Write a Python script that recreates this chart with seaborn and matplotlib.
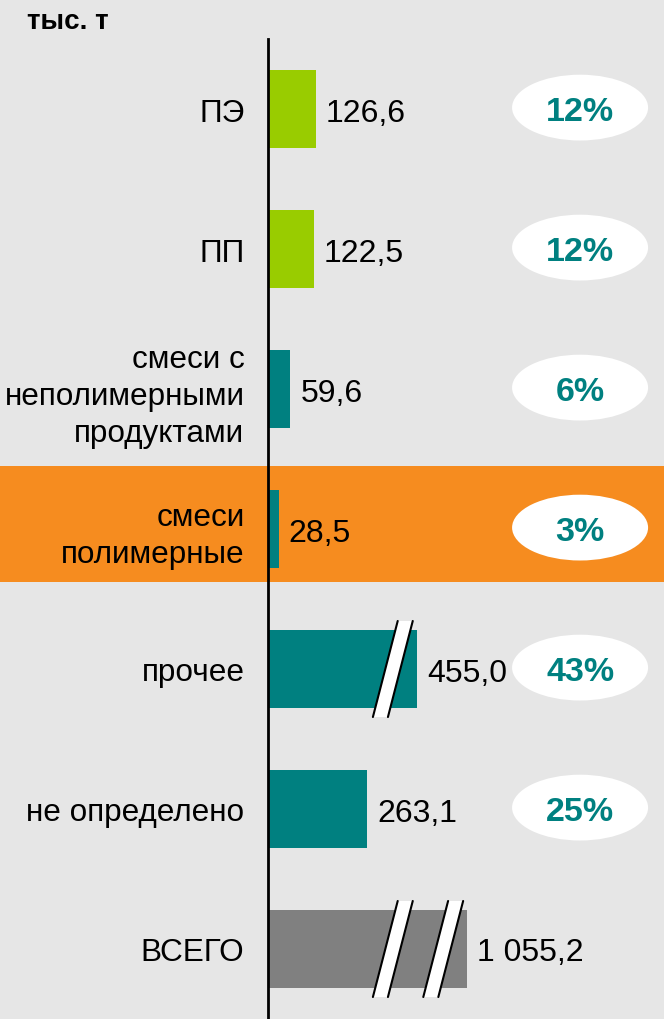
import matplotlib
matplotlib.use("Agg")
import matplotlib.pyplot as plt
import matplotlib.transforms as mtransforms
from matplotlib.patches import Ellipse, Rectangle
import seaborn as sns
import pandas as pd

# data
categories = ["ПЭ", "ПП", "смеси с\nнеполимерными\nпродуктами", "смеси\nполимерные",
              "прочее", "не определено", "ВСЕГО"]
values = [126.6, 122.5, 59.6, 28.5, 455.0, 263.1, 1055.2]
value_labels = ["126,6", "122,5", "59,6", "28,5", "455,0", "263,1", "1 055,2"]
shares = ["12%", "12%", "6%", "3%", "43%", "25%", None]
n_breaks = [0, 0, 0, 0, 1, 0, 2]
bar_colors = ["#99cc00", "#99cc00", "#008080", "#008080", "#008080", "#008080", "#808080"]

BG = "#e6e6e6"
ORANGE = "#f68c1f"
TEAL = "#008080"

# axis break: long bars are compressed above this value
BREAK_AT = 380
BREAK_SLOPE = 0.22


def shown(v):
    return v if v <= BREAK_AT else BREAK_AT + (v - BREAK_AT) * BREAK_SLOPE


df = pd.DataFrame({"cat": categories, "len": [shown(v) for v in values]})

sns.set_theme(style="white")
plt.rcParams["font.family"] = ["Liberation Sans", "DejaVu Sans"]

fig = plt.figure(figsize=(6.64, 10.20), dpi=100, facecolor=BG)
ax = fig.add_axes([268 / 664, 0, 1 - 268 / 664, 980 / 1020])
ax.set_facecolor("none")
ax.set_zorder(2)

# highlight band behind "смеси полимерные"
band_tr = mtransforms.blended_transform_factory(fig.transFigure, ax.transData)
fig.patches.append(Rectangle((0, 2.547), 1, 0.83, transform=band_tr,
                             facecolor=ORANGE, edgecolor="none", zorder=0))

sns.barplot(data=df, x="len", y="cat", hue="cat", palette=bar_colors,
            legend=False, width=0.557, orient="h", saturation=1, linewidth=0,
            ax=ax, zorder=3)

ax.set_xlim(0, 396 / 0.376)
ax.set_ylim(6.5, -0.5)

px = 1 / 0.376  # data units per pixel
for i, v in enumerate(values):
    end = shown(v)
    ax.text(end + 10 * px, i, value_labels[i], va="center_baseline", ha="left",
            fontsize=23, color="black", zorder=5)
    # break marks
    for k in range(n_breaks[i]):
        cx = 332 + k * 134
        dx, hw, hh = 33, 20, 0.343
        xs = [cx - dx - hw, cx - dx + hw, cx + dx + hw, cx + dx - hw]
        ys = [i + hh, i + hh, i - hh, i - hh]
        ax.fill(xs, ys, color="white", zorder=4, lw=0)
        ax.plot([cx - dx - hw, cx + dx - hw], [i + hh, i - hh], color="black", lw=1.5, zorder=5)
        ax.plot([cx - dx + hw, cx + dx + hw], [i + hh, i - hh], color="black", lw=1.5, zorder=5)
    if shares[i]:
        ax.add_patch(Ellipse((830, i - 0.01), 136 * px, 0.47, facecolor="white",
                             edgecolor="none", zorder=4))
        ax.text(830, i - 0.01, shares[i], ha="center", va="center_baseline", fontsize=24.5,
                fontweight="bold", color=TEAL, zorder=5)

for s in ["top", "right", "bottom"]:
    ax.spines[s].set_visible(False)
ax.spines["left"].set_color("black")
ax.spines["left"].set_linewidth(2)
ax.spines["left"].set_zorder(6)
ax.set_xticks([])
ax.set_xlabel("")
ax.set_ylabel("")
ax.tick_params(axis="y", length=0, pad=17, labelsize=22.7, labelcolor="black")
for lbl in ax.get_yticklabels():
    lbl.set_linespacing(1.3)

fig.text(27 / 664, 1 - 22 / 1020, "тыс. т", ha="left", va="center",
         fontsize=20, fontweight="bold", color="black")

fig.savefig("out.png", dpi=100, facecolor=BG)
